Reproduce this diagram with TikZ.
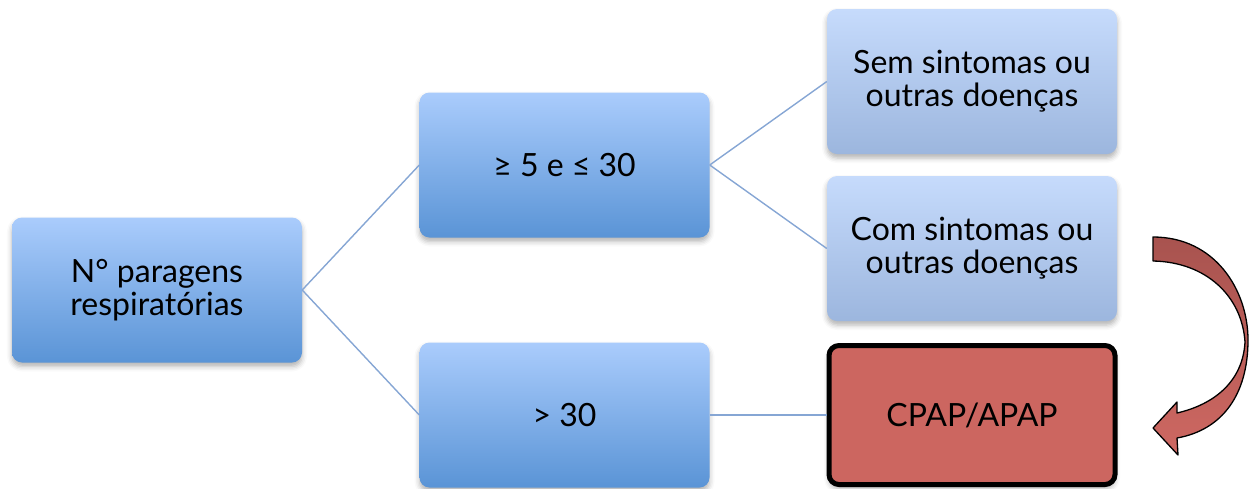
\documentclass[tikz,border=0pt]{standalone}
\usepackage{fontspec}
\setmainfont{Lato}
\usetikzlibrary{shadows.blur}
\definecolor{midtop}{HTML}{AACCFC}
\definecolor{midbot}{HTML}{5A94D6}
\definecolor{sidetop}{HTML}{C6DBFC}
\definecolor{sidebot}{HTML}{9CB6DE}
\definecolor{linkblue}{HTML}{86A6D4}
\definecolor{treat}{HTML}{CC6660}
\definecolor{arrowtop}{HTML}{A8534F}
\definecolor{arrowbot}{HTML}{CE6862}
\tikzset{
  box/.style={rectangle, rounded corners=10pt, minimum width=290pt, minimum height=145pt,
    align=center, font=\fontsize{32}{33}\selectfont, text=black,
    blur shadow={shadow xshift=0pt, shadow yshift=-4pt, shadow blur radius=5pt, shadow opacity=30}},
  midbox/.style={box, top color=midtop, bottom color=midbot},
  sidebox/.style={box, top color=sidetop, bottom color=sidebot},
  treatbox/.style={box, fill=treat, draw=black, line width=5pt, minimum width=286pt, minimum height=139pt},
  link/.style={draw=linkblue, line width=1.4pt}
}
\begin{document}
\begin{tikzpicture}[x=1pt, y=-1pt]
  \useasboundingbox (0,0) rectangle (1256,488);
  % decision tree
  \node[midbox] (root) at (157,290) {N° paragens\\respiratórias};
  \node[midbox] (low) at (564.5,165) {≥ 5 e ≤ 30};
  \node[midbox] (high) at (564.5,415) {> 30};
  \node[sidebox] (nosym) at (972,81.5) {Sem sintomas ou\\outras doenças};
  \node[sidebox] (sym) at (972,248.5) {Com sintomas ou\\outras doenças};
  \node[treatbox] (cpap) at (972,415) {CPAP/APAP};
  % connectors
  \draw[link] (root.east) -- (low.west);
  \draw[link] (root.east) -- (high.west);
  \draw[link] (low.east) -- (nosym.west);
  \draw[link] (low.east) -- (sym.west);
  \draw[link] (high.east) -- (cpap.west);
  % curved block arrow from the symptomatic case to treatment
  \coordinate (tailtop) at (1153,237);
  \coordinate (tip) at (1153,428);
  \draw[black, line width=1.3pt, line join=round, top color=arrowtop, bottom color=arrowbot]
    (tailtop) .. controls (1215,237) and (1248,290) .. (1248,340)
    .. controls (1248,395) and (1222,430) .. (1177,438)
    -- (1178,455) -- (tip) -- (1177,402) -- (1177,413)
    .. controls (1216,404) and (1243,380) .. (1245,342)
    .. controls (1242,296) and (1206,262) .. (1153,261) -- cycle;
\end{tikzpicture}
\end{document}
